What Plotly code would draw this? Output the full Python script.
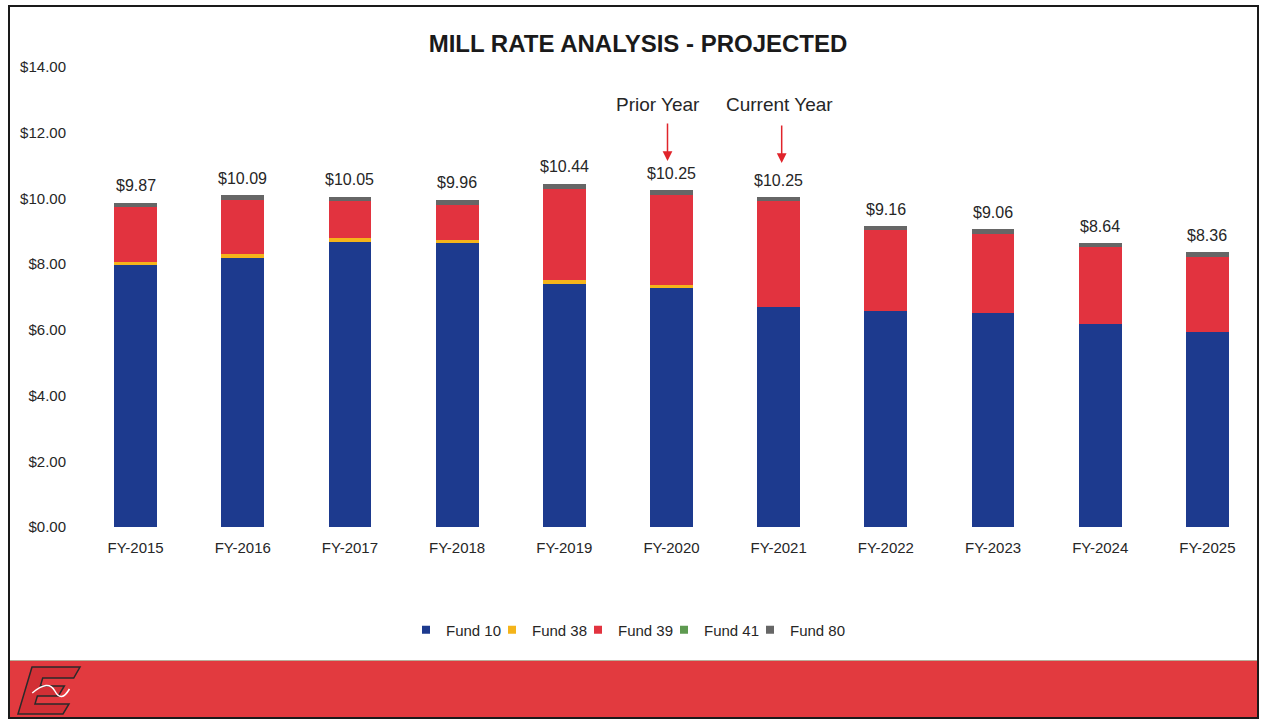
import plotly.graph_objects as go

years = ["FY-2015", "FY-2016", "FY-2017", "FY-2018", "FY-2019", "FY-2020",
         "FY-2021", "FY-2022", "FY-2023", "FY-2024", "FY-2025"]
fund10 = [7.96, 8.20, 8.67, 8.65, 7.40, 7.27, 6.70, 6.57, 6.51, 6.18, 5.93]
fund38 = [0.12, 0.11, 0.12, 0.10, 0.12, 0.11, 0.00, 0.00, 0.00, 0.00, 0.00]
fund39 = [1.65, 1.64, 1.12, 1.05, 2.78, 2.72, 3.22, 2.46, 2.42, 2.33, 2.30]
fund41 = [0.00, 0.00, 0.00, 0.00, 0.00, 0.00, 0.00, 0.00, 0.00, 0.00, 0.00]
fund80 = [0.14, 0.14, 0.14, 0.16, 0.14, 0.15, 0.11, 0.13, 0.13, 0.13, 0.13]
total_labels = ["$9.87", "$10.09", "$10.05", "$9.96", "$10.44", "$10.25",
                "$10.25", "$9.16", "$9.06", "$8.64", "$8.36"]

series = [
    ("Fund 10", fund10, "#1D3A8E"),
    ("Fund 38", fund38, "#F4B41A"),
    ("Fund 39", fund39, "#E2333F"),
    ("Fund 41", fund41, "#5E9A50"),
    ("Fund 80", fund80, "#666666"),
]

FONT = "Liberation Sans, Arial, sans-serif"
TXT = "#262626"

fig = go.Figure()
for name, vals, col in series:
    fig.add_trace(go.Bar(name=name, x=years, y=vals, marker_color=col,
                         marker_line_width=0, width=0.4, showlegend=False,
                         legendgroup=name))
# legend entries with small square keys
for name, vals, col in series:
    fig.add_trace(go.Scatter(name=name, x=[None], y=[None], mode="markers",
                             marker=dict(symbol="square", size=8, color=col),
                             legendgroup=name, showlegend=True, hoverinfo="skip"))
# invisible spacer entry so the last legend label is not clipped
fig.add_trace(go.Scatter(name="\u00a0", x=[None], y=[None], mode="markers",
                         marker=dict(symbol="square", size=8, color="rgba(0,0,0,0)"),
                         showlegend=True, hoverinfo="skip"))

tops = [a + b + c + d + e for a, b, c, d, e in zip(fund10, fund38, fund39, fund41, fund80)]

# pixel -> paper helpers
L, R, T, B = 82, 1261, 67, 527
def px(x):
    return (x - L) / (R - L)
def py(y):
    return (B - y) / (B - T)

annotations = []
for yr, top, lab in zip(years, tops, total_labels):
    annotations.append(dict(x=yr, y=top, text=lab, showarrow=False, yanchor="middle",
                            yshift=17, font=dict(family=FONT, size=16, color=TXT)))

shapes = []
# red footer band
shapes.append(dict(type="rect", xref="paper", yref="paper",
                   x0=px(9), x1=px(1258), y0=py(717), y1=py(661),
                   fillcolor="#E23A3F", line=dict(width=0), layer="below"))
shapes.append(dict(type="line", xref="paper", yref="paper",
                   x0=px(9), x1=px(1258), y0=py(660.5), y1=py(660.5),
                   line=dict(color="#b9ad9a", width=1)))
# frame
shapes.append(dict(type="rect", xref="paper", yref="paper",
                   x0=px(9), x1=px(1258), y0=py(718), y1=py(6),
                   fillcolor="rgba(0,0,0,0)", line=dict(color="#1a1a1a", width=2)))

# logo: slanted "E"
ox, oy, w, h, sl = 18, 667, 48, 47, 14
local = [(0, 0), (48, 0), (45, 11), (14, 11), (14, 19), (38, 19), (35, 29),
         (14, 29), (14, 37), (48, 37), (45, 47), (0, 47)]
def pt(lx, ly):
    X = ox + lx + sl * (1 - ly / h)
    Y = oy + ly
    return f"{px(X):.5f},{py(Y):.5f}"
path = "M" + " L".join(pt(a, b) for a, b in local) + " Z"
shapes.append(dict(type="path", xref="paper", yref="paper", path=path,
                   fillcolor="#D22F35", line=dict(color="#2a2a2a", width=1.5)))
swirl = "M" + pt(8, 26) + " Q" + pt(20, 12) + " " + pt(30, 24) + " T" + pt(44, 22)
shapes.append(dict(type="path", xref="paper", yref="paper", path=swirl,
                   line=dict(color="white", width=1.5)))

# Prior / Current year markers
annotations += [
    dict(x="FY-2020", y=py(104), yref="paper", xshift=-14, text="Prior Year",
         showarrow=False, yanchor="middle", font=dict(family=FONT, size=19, color=TXT)),
    dict(x="FY-2020", y=11.14, xshift=-4, ax=0, ay=-39, text="", showarrow=True,
         arrowhead=2, arrowsize=1.3, arrowwidth=1.5, arrowcolor="#E0242B"),
    dict(x="FY-2021", y=py(105), yref="paper", xshift=1, text="Current Year",
         showarrow=False, yanchor="middle", font=dict(family=FONT, size=19, color=TXT)),
    dict(x="FY-2021", y=11.08, xshift=3, ax=0, ay=-39, text="", showarrow=True,
         arrowhead=2, arrowsize=1.3, arrowwidth=1.5, arrowcolor="#E0242B"),
]

fig.update_layout(
    width=1265, height=721,
    barmode="stack",
    margin=dict(l=L, r=1265 - R, t=T, b=721 - B),
    paper_bgcolor="white", plot_bgcolor="white",
    title=dict(text="<b>MILL RATE ANALYSIS - PROJECTED</b>", x=638 / 1265, xanchor="center",
               y=1 - 44 / 721, yanchor="middle",
               font=dict(family=FONT, size=24, color="#1a1a1a")),
    font=dict(family=FONT, color=TXT),
    legend=dict(orientation="h", x=px(406), xanchor="left",
                y=py(630), yanchor="middle", font=dict(family=FONT, size=15, color=TXT),
                traceorder="normal", entrywidth=41, itemwidth=30),
    shapes=shapes,
    annotations=annotations,
    showlegend=True,
)
fig.update_yaxes(range=[0, 14], dtick=2, tickformat="$.2f", showgrid=False,
                 zeroline=False, showline=False, ticks="", ticklabelstandoff=15,
                 automargin=False,
                 tickfont=dict(family=FONT, size=15, color=TXT))
fig.update_xaxes(showgrid=False, showline=False, ticks="", ticklabelstandoff=10,
                 automargin=False,
                 tickfont=dict(family=FONT, size=15, color=TXT))

fig.write_html("out.html")
